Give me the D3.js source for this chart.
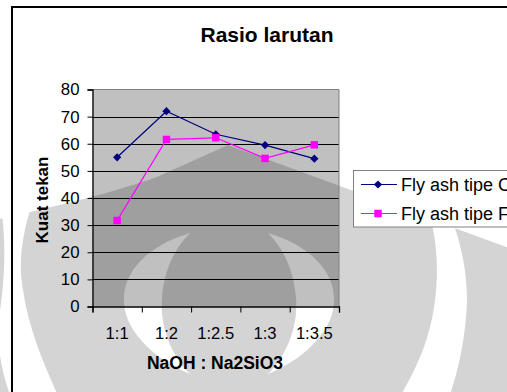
<!DOCTYPE html>
<html>
<head>
<meta charset="utf-8">
<script src="https://cdn.jsdelivr.net/npm/d3@7"></script>
<style>
  html, body { margin: 0; padding: 0; background: #ffffff; }
  svg { display: block; font-family: "Liberation Sans", Arial, sans-serif; }
</style>
</head>
<body>
<svg id="chart" width="507" height="392"></svg>
<script>
// Compressive strength by NaOH : Na2SiO3 ratio
const categories = ["1:1", "1:2", "1:2.5", "1:3", "1:3.5"];
const flyAshC = [55, 72, 63.5, 59.5, 54.5];
const flyAshF = [31.7, 61.6, 62.2, 54.6, 59.6];
const yTicks = [0, 10, 20, 30, 40, 50, 60, 70, 80];
const seriesNames = ["Fly ash tipe C", "Fly ash tipe F"];
const seriesColors = ["#000080", "#ff00ff"];

const W = 507, H = 392;
const plot = { left: 92.5, right: 339, top: 89.5, bottom: 306.5 };

const svg = d3.select("#chart");

// Page background
svg.append("rect").attr("width", W).attr("height", H).attr("fill", "#ffffff");

// Background emblem behind the chart
const emblem = svg.append("g");
emblem.append("path")
  .attr("d", "M-5,220 C40,210 110,194 157,177 L228,145 L512,249 L512,400 L-5,400 Z")
  .attr("fill", "#d4d4d4");
const cutouts = [
  "M2,214 L32,204 C22,235 18,262 23,290 C29,330 44,365 60,400 L12,400 C2,375 -4,345 -1,318 C3,290 7,255 2,214 Z",
  "M428,210 C440,245 441,300 424,347 C416,368 408,383 398,400 L448,400 C456,380 466,340 467,300 C467,265 459,240 451,215 Z",
  "M190,233 C150,245 122,270 124,303 C126,335 160,362 190,374 C168,352 160,322 162,298 C164,270 175,248 190,233 Z",
  "M268,233 C308,245 336,270 334,303 C332,335 298,362 268,374 C290,352 298,322 296,298 C294,270 283,248 268,233 Z"
];
emblem.selectAll("path.cut").data(cutouts).join("path")
  .attr("class", "cut").attr("d", d => d).attr("fill", "#ffffff");

// Chart frame
svg.append("rect")
  .attr("x", 12).attr("y", 7).attr("width", 520).attr("height", 420)
  .attr("fill", "none").attr("stroke", "#000000").attr("stroke-width", 2);

// Title
svg.append("text")
  .attr("x", 267).attr("y", 41.5)
  .attr("text-anchor", "middle")
  .attr("font-size", 21).attr("font-weight", "bold")
  .text("Rasio larutan");

// Scales
const x = d3.scaleBand().domain(categories).range([plot.left, plot.right]).padding(0);
const xEdges = d3.scaleLinear().domain([0, categories.length]).range([plot.left, plot.right]);
const y = d3.scaleLinear().domain([0, 80]).range([plot.bottom, plot.top]);
const cx = c => x(c) + x.bandwidth() / 2;

// Plot area (translucent grey so the emblem shows through)
svg.append("rect")
  .attr("x", plot.left).attr("y", plot.top)
  .attr("width", plot.right - plot.left).attr("height", plot.bottom - plot.top)
  .attr("fill", "#000000").attr("fill-opacity", 0.247);

// Gridlines
svg.append("g").selectAll("line").data(yTicks.filter(t => t > 0 && t < 80)).join("line")
  .attr("x1", plot.left).attr("x2", plot.right)
  .attr("y1", d => Math.round(y(d)) + 0.5).attr("y2", d => Math.round(y(d)) + 0.5)
  .attr("stroke", "#000000").attr("stroke-width", 1);

// Plot border (top and right)
svg.append("path")
  .attr("d", `M${plot.left},${plot.top} H${plot.right} V${plot.bottom}`)
  .attr("fill", "none").attr("stroke", "#808080").attr("stroke-width", 1);

// Y axis
const yAxis = svg.append("g")
  .attr("transform", `translate(${plot.left},0)`)
  .call(d3.axisLeft(y).tickValues(yTicks).tickSize(5).tickPadding(8));
yAxis.select(".domain").attr("stroke", "#000").attr("stroke-width", 1.3);
yAxis.selectAll(".tick line").attr("stroke", "#000");
yAxis.selectAll(".tick text")
  .attr("font-size", 16.8).attr("fill", "#000")
  .attr("font-family", "'Liberation Sans', Arial, sans-serif");

// X axis: tick marks on category boundaries
const xAxis = svg.append("g")
  .attr("transform", `translate(0,${plot.bottom})`)
  .call(d3.axisBottom(xEdges).tickValues(d3.range(categories.length + 1)).tickSize(6).tickFormat(""));
xAxis.select(".domain").attr("stroke", "#000").attr("stroke-width", 1.3);
xAxis.selectAll(".tick line").attr("stroke", "#000");

// X category labels
svg.append("g").selectAll("text").data(categories).join("text")
  .attr("x", d => cx(d)).attr("y", 338.5)
  .attr("text-anchor", "middle")
  .attr("font-size", 16.6)
  .text(d => d);

// Axis titles
svg.append("text")
  .attr("transform", "translate(48,200) rotate(-90)")
  .attr("text-anchor", "middle")
  .attr("font-size", 17).attr("font-weight", "bold")
  .text("Kuat tekan");
svg.append("text")
  .attr("x", 215).attr("y", 369)
  .attr("text-anchor", "middle")
  .attr("font-size", 17.5).attr("font-weight", "bold")
  .text("NaOH : Na2SiO3");

// Series
const series = [
  { name: seriesNames[0], values: flyAshC, color: seriesColors[0], shape: "diamond" },
  { name: seriesNames[1], values: flyAshF, color: seriesColors[1], shape: "square" }
];
const line = d3.line().x((d, i) => cx(categories[i])).y(d => y(d));
const diamond = d3.symbol(d3.symbolSquare, 34);
const square = d3.symbol(d3.symbolSquare, 56);

series.forEach(s => {
  const g = svg.append("g");
  g.append("path")
    .attr("d", line(s.values))
    .attr("fill", "none").attr("stroke", s.color).attr("stroke-width", 1.2);
  g.selectAll("path.m").data(s.values).join("path")
    .attr("class", "m")
    .attr("transform", (d, i) => `translate(${cx(categories[i])},${y(d)})` + (s.shape === "diamond" ? " rotate(45)" : ""))
    .attr("d", s.shape === "diamond" ? diamond() : square())
    .attr("fill", s.color);
});

// Legend
const legend = svg.append("g");
legend.append("rect")
  .attr("x", 353.5).attr("y", 170.5).attr("width", 200).attr("height", 56.5)
  .attr("fill", "#ffffff").attr("stroke", "#808080").attr("stroke-width", 1);
series.forEach((s, i) => {
  const ly = 184.5 + i * 29;
  legend.append("line")
    .attr("x1", 361).attr("x2", 397).attr("y1", ly).attr("y2", ly)
    .attr("stroke", s.color).attr("stroke-width", 1.2);
  legend.append("path")
    .attr("transform", `translate(378,${ly})` + (s.shape === "diamond" ? " rotate(45)" : ""))
    .attr("d", s.shape === "diamond" ? diamond() : square())
    .attr("fill", s.color);
  legend.append("text")
    .attr("x", 401).attr("y", ly).attr("dy", "0.35em")
    .attr("font-size", 18)
    .text(s.name);
});
</script>
</body>
</html>
